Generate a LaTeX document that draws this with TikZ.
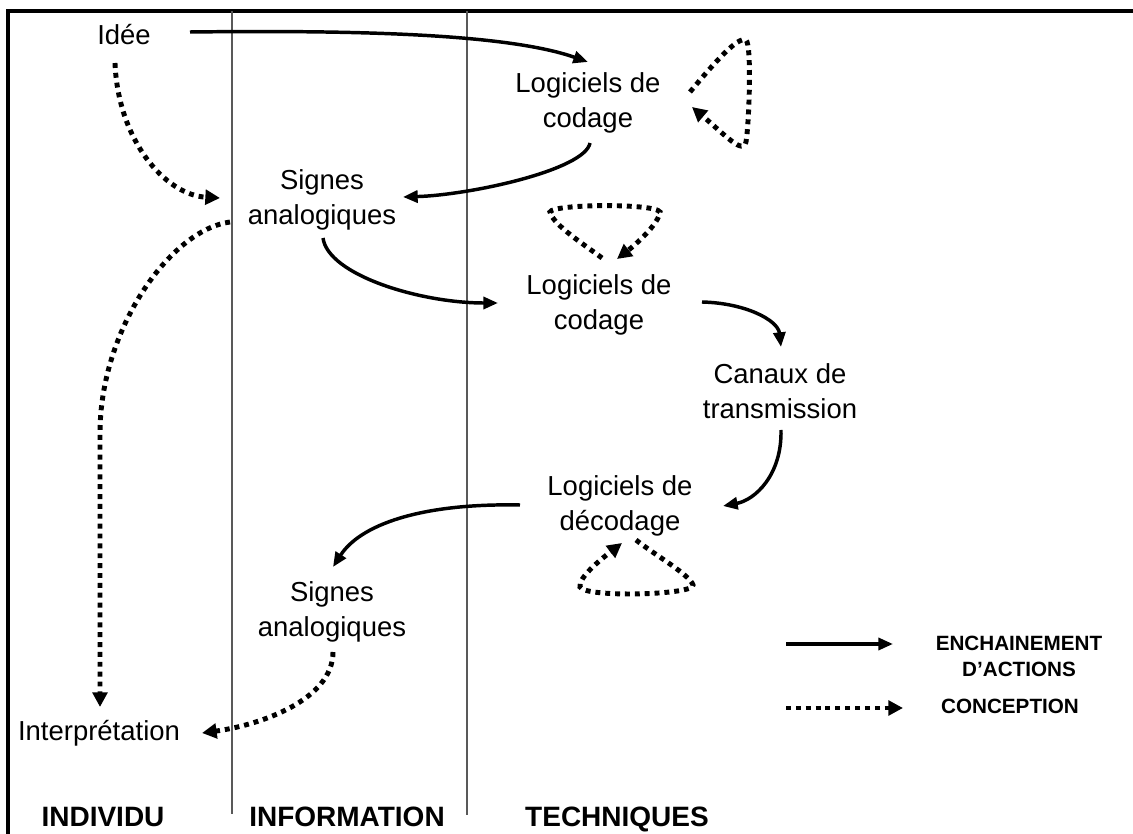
\documentclass[tikz,border=0pt]{standalone}
\usepackage{fontspec}
\setmainfont{Liberation Sans}
\usetikzlibrary{arrows.meta,calc}
\begin{document}
\begin{tikzpicture}[x=0.75pt,y=-0.75pt,
  lbl/.style={align=center,font=\fontsize{20.6}{26}\selectfont,inner sep=0pt},
  hdr/.style={font=\fontsize{21}{25}\selectfont\bfseries,inner sep=0pt,anchor=base},
  leg/.style={align=center,font=\fontsize{15.5}{19.5}\selectfont\bfseries,inner sep=0pt},
  act/.style={line width=2.6pt,-{Triangle[length=11pt,width=9pt]}},
  conc/.style={line width=3.7pt,dash pattern=on 3.7pt off 3.7pt,-{Triangle[length=11pt,width=11pt]}},
  sep/.style={draw=black!65,line width=0.8pt}]
\useasboundingbox (0,0) rectangle (1133,834);
% frame and columns
\draw[line width=2.3pt] (8,834) -- (8,11) -- (1133,11);
\draw[sep] (232,11) -- (232,814);
\draw[sep] (467,11) -- (467,815);
% nodes
\node[lbl] (idee) at (124,35) {Idée};
\node[lbl] (lc1) at (588,103) {Logiciels de\\codage};
\node[lbl] (sa1) at (322,200) {Signes\\analogiques};
\node[lbl] (lc2) at (599,305) {Logiciels de\\codage};
\node[lbl] (can) at (780,391) {Canaux de\\transmission};
\node[lbl] (dec) at (620,506) {Logiciels de\\décodage};
\node[lbl] (sa2) at (332,612) {Signes\\analogiques};
\node[lbl] (interp) at (99,733) {Interprétation};
\node[hdr] (h1) at (103,826) {INDIVIDU};
\node[hdr] (h2) at (347,826) {INFORMATION};
\node[hdr] (h3) at (617,826) {TECHNIQUES};
\node[leg] (enc) at (1019,656) {ENCHAINEMENT\\D’ACTIONS};
\node[leg] (cpt) at (1010,706) {CONCEPTION};
% action arrows
\draw[act] ($(idee)+(66,-3)$) .. controls +(170,-2) and +(-80,-28) .. ($(lc1)+(0,-41)$);
\draw[act] ($(lc1)+(2,40)$) .. controls +(-5,27) and +(67,-2) .. ($(sa1)+(81,-3)$);
\draw[act] ($(sa1)+(1,38)$) .. controls +(5,37) and +(-78,0) .. ($(lc2)+(-101,-2)$);
\draw[act] ($(lc2)+(103,-3)$) .. controls +(43,1) and +(-3,-27) .. ($(can)+(1,-44)$);
\draw[act] ($(can)+(1,39)$) .. controls +(1,45) and +(32,-6) .. ($(dec)+(103,0)$);
\draw[act] ($(dec)+(-100,-1)$) .. controls +(-100,-2) and +(27,-42) .. ($(sa2)+(1,-45)$);
% conception arrows
\draw[conc] ($(idee)+(-9,28)$) .. controls +(3,77) and +(-55,-3) .. ($(sa1)+(-102,-2)$);
\draw[conc] ($(sa1)+(-92,22)$) .. controls +(-60,8) and +(0,-103) .. ($(interp)+(1,-300)$) -- ($(interp)+(1,-26)$);
\draw[conc] ($(sa2)+(1,40)$) .. controls +(0,48) and +(58,-8) .. ($(interp)+(103,0)$);
% self loops
\draw[conc] ($(lc1)+(102,-11)$) .. controls ($(lc1)+(127,-41)$) and ($(lc1)+(150,-67)$) .. ($(lc1)+(158,-63)$)
  .. controls ($(lc1)+(164,-58)$) and ($(lc1)+(161,22)$) .. ($(lc1)+(158,39)$)
  .. controls ($(lc1)+(155,52)$) and ($(lc1)+(137,32)$) .. ($(lc1)+(104,4)$);
\draw[conc] ($(lc2)+(3,-47)$) .. controls ($(lc2)+(-14,-60)$) and ($(lc2)+(-46,-80)$) .. ($(lc2)+(-49,-93)$)
  .. controls ($(lc2)+(-47,-101)$) and ($(lc2)+(56,-102)$) .. ($(lc2)+(61,-93)$)
  .. controls ($(lc2)+(59,-80)$) and ($(lc2)+(36,-60)$) .. ($(lc2)+(18,-46)$);
\draw[conc] ($(dec)+(16,34)$) .. controls ($(dec)+(35,49)$) and ($(dec)+(70,69)$) .. ($(dec)+(73,79)$)
  .. controls ($(dec)+(75,89)$) and ($(dec)+(-35,92)$) .. ($(dec)+(-40,81)$)
  .. controls ($(dec)+(-42,72)$) and ($(dec)+(-20,54)$) .. ($(dec)+(2,37)$);
% legend
\draw[act] ($(enc)+(-233,-12)$) -- ($(enc)+(-126,-12)$);
\draw[conc] ($(cpt)+(-224,2)$) -- ($(cpt)+(-107,2)$);
\end{tikzpicture}
\end{document}
